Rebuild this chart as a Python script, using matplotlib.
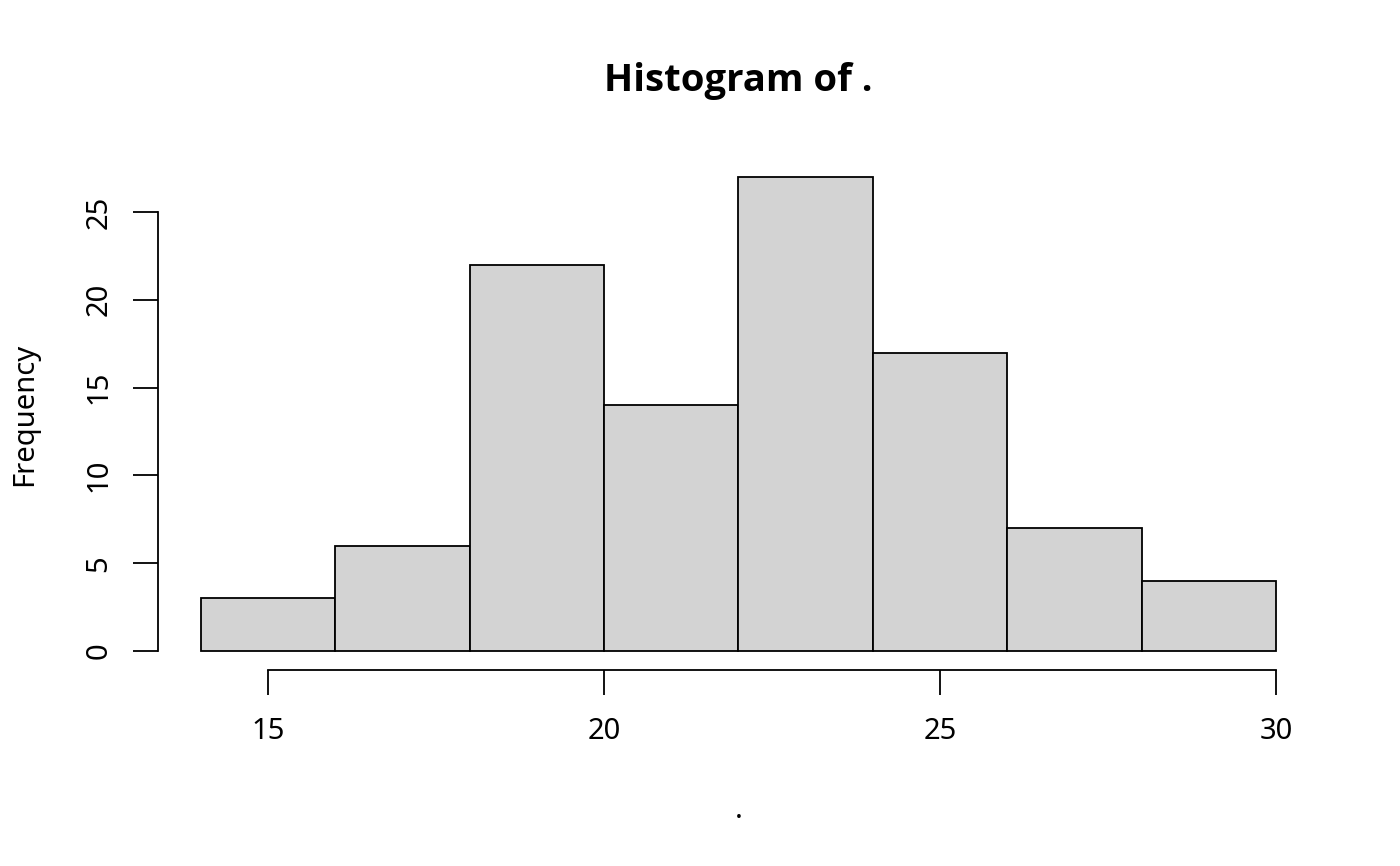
import matplotlib
matplotlib.use("Agg")
import matplotlib.pyplot as plt
import numpy as np

plt.rcParams['font.family'] = ['Noto Sans', 'DejaVu Sans']

breaks = [14, 16, 18, 20, 22, 24, 26, 28, 30]
counts = [3, 6, 22, 14, 27, 17, 7, 4]
xticks = [15, 20, 25, 30]
yticks = [0, 5, 10, 15, 20, 25]

fig = plt.figure(figsize=(14, 8.66), dpi=100)
ax = fig.add_axes([158/1400, 1 - 670/866, (1319 - 158)/1400, (670 - 158)/866])

lefts = np.array(breaks[:-1])
widths = np.diff(breaks)
ax.bar(lefts, counts, width=widths, align='edge', color='#d3d3d3',
       edgecolor='black', linewidth=1.3)

xr = breaks[-1] - breaks[0]
ax.set_xlim(breaks[0] - 0.04 * xr, breaks[-1] + 0.04 * xr)
ymax = max(counts)
ax.set_ylim(-0.04 * ymax, ymax * 1.04)

for s in ['top', 'right']:
    ax.spines[s].set_visible(False)
ax.spines['left'].set_bounds(yticks[0], yticks[-1])
ax.spines['bottom'].set_bounds(xticks[0], xticks[-1])
for s in ['left', 'bottom']:
    ax.spines[s].set_linewidth(1.3)

ax.set_xticks(xticks)
ax.set_yticks(yticks)
ax.set_yticklabels([str(v) for v in yticks], rotation=90, va='center')
ax.tick_params(axis='both', length=18, width=1.3, labelsize=21, pad=16)
ax.tick_params(axis='y', pad=14)

fig.text(0.5 * (158 + 1319) / 1400, 1 - 81 / 866, 'Histogram of .',
         fontsize=27.5, fontweight='bold', family=['Open Sans', 'DejaVu Sans'],
         ha='center', va='center')
ax.set_xlabel('.', fontsize=21, labelpad=36)
ax.set_ylabel('Frequency', fontsize=21, labelpad=33)

fig.savefig('out.png', dpi=100)
